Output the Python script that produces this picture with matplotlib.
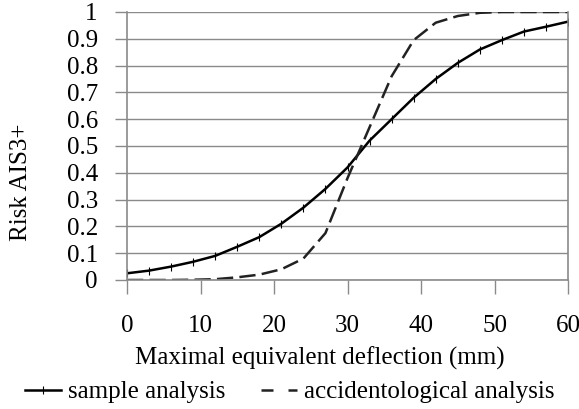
import matplotlib
import matplotlib.pyplot as plt
import numpy as np
from matplotlib.lines import Line2D

matplotlib.use("Agg")

# deflection (mm), sampled every 3 mm
deflection = np.arange(0, 61, 3)

sample_risk = [0.025, 0.035, 0.050, 0.068, 0.090, 0.124, 0.160, 0.210, 0.270,
               0.340, 0.420, 0.520, 0.600, 0.680, 0.750, 0.810, 0.860, 0.895,
               0.927, 0.945, 0.964]

accident_risk = [0.0, 0.0, 0.0, 0.001, 0.003, 0.010, 0.020, 0.040, 0.080,
                 0.175, 0.380, 0.570, 0.760, 0.895, 0.960, 0.985, 0.997,
                 1.0, 1.0, 1.0, 1.0]

x_ticks = [0, 10, 20, 30, 40, 50, 60]
y_ticks = [0, 0.1, 0.2, 0.3, 0.4, 0.5, 0.6, 0.7, 0.8, 0.9, 1]
y_labels = ["0", "0.1", "0.2", "0.3", "0.4", "0.5", "0.6", "0.7", "0.8", "0.9", "1"]

plt.rcParams["font.family"] = ["Liberation Serif", "DejaVu Serif"]
fs = 18
W, H = 579, 409

fig = plt.figure(figsize=(W / 100, H / 100), dpi=100)
ax = fig.add_axes([127 / W, 1 - 280 / H, 441 / W, 268 / H])

grid_col = "#8a8a8a"
ax.set_axisbelow(True)
ax.yaxis.grid(True, color=grid_col, linewidth=1.0)

ax.plot(deflection, sample_risk, color="black", linewidth=1.8,
        marker="|", markersize=6, markeredgewidth=0.8)
ax.plot(deflection, accident_risk, color="#222222", linewidth=1.8,
        dashes=(6.5, 2.5))

ax.set_xlim(0, 60)
ax.set_ylim(0, 1)
ax.set_xticks(x_ticks)
ax.set_yticks(y_ticks)
ax.set_yticklabels(y_labels)

ax.spines["top"].set_visible(False)
for side in ["left", "right", "bottom"]:
    ax.spines[side].set_color(grid_col)
    ax.spines[side].set_linewidth(1.2)

ax.tick_params(axis="x", direction="out", length=10, width=1.0, color=grid_col,
               labelsize=fs, pad=15)
ax.tick_params(axis="y", direction="out", length=9, width=1.0, color=grid_col,
               labelsize=fs, pad=12)

fig.text(320 / W, 1 - 358 / H, "Maximal equivalent deflection (mm)",
         fontsize=fs, ha="center", va="center")
fig.text(21 / W, 1 - 182 / H, "Risk AIS3+", fontsize=fs, rotation=90,
         ha="center", va="center")

handles = [
    Line2D([], [], color="black", linewidth=1.8, marker="|",
           markersize=6, markeredgewidth=0.8),
    Line2D([], [], color="#222222", linewidth=1.8, dashes=(4.8, 6)),
]
fig.legend(handles, ["sample analysis", "accidentological analysis"],
           loc="center left", bbox_to_anchor=(25 / W, 1 - 392 / H), ncol=2,
           frameon=False, fontsize=fs, handlelength=1.45, handletextpad=0.25,
           columnspacing=1.45, borderpad=0, borderaxespad=0, numpoints=1)

fig.savefig("out.png", dpi=100)
